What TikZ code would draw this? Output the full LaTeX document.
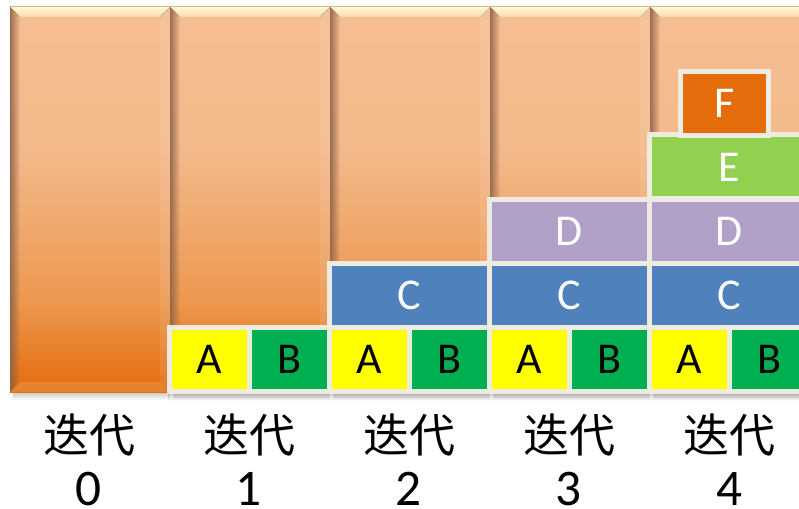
\documentclass[tikz,border=0pt]{standalone}
\usepackage{fontspec}
\setmainfont{Carlito}
\newfontfamily\cjk{Noto Sans CJK SC}
\usetikzlibrary{fadings}

\definecolor{peachtop}{HTML}{F5BE92}
\definecolor{peachmid}{HTML}{F3B98A}
\definecolor{orangemid}{HTML}{EC9850}
\definecolor{orangebot}{HTML}{E46C0A}
\definecolor{bevellight}{HTML}{FFF9D2}
\definecolor{bevellow}{HTML}{FAD9AE}
\definecolor{bevelshade}{HTML}{8A6046}
\definecolor{frame}{HTML}{EEECE1}
\definecolor{cyellow}{HTML}{FFFF00}
\definecolor{cgreen}{HTML}{00B050}
\definecolor{cblue}{HTML}{4F81BD}
\definecolor{cpurple}{HTML}{B1A0C7}
\definecolor{clime}{HTML}{92D050}
\definecolor{corange}{HTML}{E46C0A}

\tikzset{
  cell/.style={draw=frame, line width=3.75pt, minimum width=60pt,
    minimum height=48pt, inner sep=0pt, font=\fontsize{33}{33}\selectfont},
  widecell/.style={cell, minimum width=120pt},
  topcell/.style={cell, minimum width=66pt},
  iterlabel/.style={inner sep=0pt, font=\cjk\fontsize{34.5}{36}\selectfont},
  numlabel/.style={inner sep=0pt, font=\fontsize{38.5}{40}\selectfont},
}

\begin{document}
\begin{tikzpicture}[x=0.75pt, y=-0.75pt]
  \useasboundingbox (0,0) rectangle (799,509);
  \clip (0,0) rectangle (799,509);

  % bevelled columns, one per iteration
  \foreach \k in {0,...,4} {
    \pgfmathsetmacro\xa{10+160*\k}
    \pgfmathsetmacro\xb{170+160*\k}
    % soft shadow under the column
    \fill[black, opacity=0.22, path fading=south] (\xa+3,392) rectangle (\xb,400);
    % body gradient
    \fill[top color=peachtop, bottom color=peachmid] (\xa,7) rectangle (\xb,150.5);
    \fill[top color=peachmid, bottom color=orangemid] (\xa,150) rectangle (\xb,300.5);
    \fill[top color=orangemid, bottom color=orangebot] (\xa,300) rectangle (\xb,392);
    % bevel faces
    \fill[top color=bevellight, bottom color=bevellow]
      (\xa,7) -- (\xb,7) -- (\xb-10,17) -- (\xa+10,17) -- cycle;
    \fill[bevelshade, opacity=0.85, path fading=east]
      (\xa,7) -- (\xa+10,17) -- (\xa+10,382) -- (\xa,392) -- cycle;
    \fill[white, opacity=0.09]
      (\xb,7) -- (\xb,392) -- (\xb-10,382) -- (\xb-10,17) -- cycle;
    \fill[white, opacity=0.14]
      (\xa,392) -- (\xa+10,382) -- (\xb-10,382) -- (\xb,392) -- cycle;
  }

  % shadow under the bottom row of blocks
  \fill[black, opacity=0.18, path fading=south] (168,393) rectangle (810,401);

  % blocks A and B in every iteration from 1 on
  \foreach \c in {1,...,4} {
    \node[cell, fill=cyellow] (a\c) at ({169.5+160*(\c-1)+40}, 359.5) {A};
    \node[cell, fill=cgreen]  (b\c) at ({169.5+160*(\c-1)+120}, 359.5) {B};
  }
  % block C from iteration 2 on
  \foreach \c in {2,...,4} {
    \node[widecell, fill=cblue, text=white] (c\c) at ({169.5+160*(\c-1)+80}, 295.5) {C};
  }
  % block D from iteration 3 on
  \foreach \c in {3,4} {
    \node[widecell, fill=cpurple, text=white] (d\c) at ({169.5+160*(\c-1)+80}, 231.5) {D};
  }
  % blocks E and F in iteration 4
  \node[widecell, fill=clime, text=white] (e4) at (729.5, 167) {E};
  \node[topcell, fill=corange, text=white] (f4) at (724.5, 103.5) {F};

  % iteration labels
  \foreach \k in {0,...,4} {
    \node[iterlabel] (it\k) at ({89+160*\k}, 435) {迭代};
    \node[numlabel]  (num\k) at ({89+160*\k}, 489) {\k};
  }
\end{tikzpicture}
\end{document}
